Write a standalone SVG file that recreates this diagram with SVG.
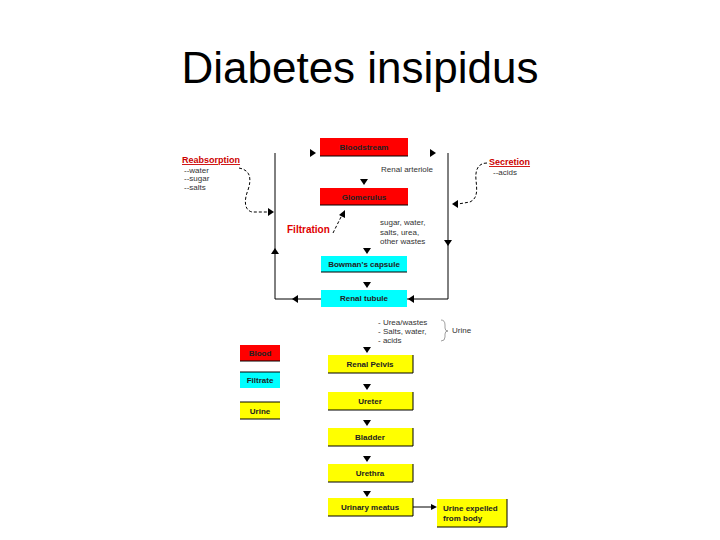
<svg xmlns="http://www.w3.org/2000/svg" width="720" height="540" viewBox="0 0 720 540">
<defs>
<style>
.t{font-family:"Liberation Sans",Arial,sans-serif;}
.bl{font-family:"Liberation Sans",Arial,sans-serif;font-size:8px;font-weight:bold;fill:#222;text-anchor:middle;}
.bls{font-family:"Liberation Sans",Arial,sans-serif;font-size:8px;font-weight:bold;fill:#222;text-anchor:start;}
.sm{font-family:"Liberation Sans",Arial,sans-serif;font-size:8px;fill:#333;}
.red{fill:#ff0000;}
.cy{fill:#00ffff;}
.ye{fill:#ffff00;}
.ln{stroke:#000;stroke-width:1;fill:none;}
.dash{stroke:#000;stroke-width:1;fill:none;stroke-dasharray:3,2;}
.tri{fill:#000;}
</style>
</defs>
<rect width="720" height="540" fill="#fff"/>
<text class="t" x="360" y="83" font-size="44" text-anchor="middle" fill="#000">Diabetes insipidus</text>

<g id="connectors">
<line class="ln" x1="275" y1="153" x2="275" y2="299"/>
<line class="ln" x1="448" y1="153" x2="448" y2="299"/>
<line class="ln" x1="275" y1="299" x2="321" y2="299"/>
<line class="ln" x1="448" y1="299" x2="407" y2="299"/>
<path class="tri" d="M310,149 L316,153 L310,157 Z"/>
<path class="tri" d="M430,149 L436,153 L430,157 Z"/>
<path class="tri" d="M360,179 L368,179 L364,185 Z"/>
<path class="tri" d="M363,248 L371,248 L367,254 Z"/>
<path class="tri" d="M363,282 L371,282 L367,288 Z"/>
<path class="tri" d="M363,347 L371,347 L367,353 Z"/>
<path class="tri" d="M363,384 L371,384 L367,390 Z"/>
<path class="tri" d="M363,420 L371,420 L367,426 Z"/>
<path class="tri" d="M363,456 L371,456 L367,462 Z"/>
<path class="tri" d="M363,491 L371,491 L367,497 Z"/>
<path class="tri" d="M271,254 L279,254 L275,248 Z"/>
<path class="tri" d="M444,240 L452,240 L448,246 Z"/>
<path class="tri" d="M298,295 L298,303 L292,299 Z"/>
<path class="tri" d="M414,295 L414,303 L408,299 Z"/>
<path class="dash" d="M239,168 C250,170 252,178 248,190 C244,200 244,210 252,212 L268,212"/>
<path class="tri" d="M268,208 L274,212 L268,216 Z"/>
<path class="dash" d="M487,163 C478,163 475,170 476,180 C477,190 478,198 470,202 L458,204"/>
<path class="tri" d="M458,200 L452,204 L458,208 Z"/>
<line class="dash" x1="333" y1="233" x2="342" y2="215"/>
<path class="tri" d="M339,215 L345,210 L345,218 Z"/>
<line class="ln" x1="413" y1="507" x2="432" y2="507"/>
<path class="tri" d="M431,504 L437,507 L431,510 Z"/>
</g>

<g id="bloodstream">
<rect class="red" x="320" y="138" width="88" height="18"/>
<line class="ln" x1="320" y1="156" x2="408" y2="156"/>
<text class="bl" x="364" y="150">Bloodstream</text>
</g>
<g id="glomerulus">
<rect class="red" x="320" y="188" width="88" height="17"/>
<line class="ln" x1="320" y1="205" x2="408" y2="205"/>
<text class="bl" x="364" y="200">Glomerulus</text>
</g>
<g id="bowmans">
<rect class="cy" x="321" y="256" width="86" height="16"/>
<line class="ln" x1="321" y1="272" x2="407" y2="272"/>
<text class="bl" x="364" y="267">Bowman's capsule</text>
</g>
<g id="tubule">
<rect class="cy" x="321" y="290" width="86" height="17"/>
<text class="bl" x="364" y="301">Renal tubule</text>
</g>

<g id="renal-arteriole"><text class="sm" x="381" y="172">Renal arteriole</text></g>
<g id="filtrate-contents">
<text class="sm" x="380" y="225">sugar, water,</text>
<text class="sm" x="380" y="235">salts, urea,</text>
<text class="sm" x="380" y="244">other wastes</text>
</g>
<g id="filtration"><text class="t" x="287" y="233" font-size="10" font-weight="bold" fill="#e00000">Filtration</text></g>
<g id="reabsorption">
<text class="t" x="182" y="163" font-size="9" font-weight="bold" fill="#cc0000" text-decoration="underline">Reabsorption</text>
<text class="sm" x="184" y="173">--water</text>
<text class="sm" x="184" y="181">--sugar</text>
<text class="sm" x="184" y="190">--salts</text>
</g>
<g id="secretion">
<text class="t" x="489" y="165" font-size="9" font-weight="bold" fill="#cc0000" text-decoration="underline">Secretion</text>
<text class="sm" x="493" y="175">--acids</text>
</g>
<g id="urine-contents">
<text class="sm" x="378" y="325">- Urea/wastes</text>
<text class="sm" x="378" y="334">- Salts, water,</text>
<text class="sm" x="378" y="343">- acids</text>
<path d="M441,320 Q445,320 445,325 L445,328 Q445,331 448,331 Q445,331 445,334 L445,337 Q445,341 441,341" stroke="#888" stroke-width="0.8" fill="none"/>
<text class="sm" x="452" y="333">Urine</text>
</g>

<g id="legend-blood">
<rect class="red" x="240" y="345" width="40" height="16"/>
<line class="ln" x1="240" y1="361" x2="280" y2="361"/>
<text class="bl" x="260" y="356">Blood</text>
</g>
<g id="legend-filtrate">
<rect class="cy" x="240" y="372" width="40" height="16"/>
<line class="ln" x1="240" y1="372" x2="280" y2="372"/>
<text class="bl" x="260" y="383">Filtrate</text>
</g>
<g id="legend-urine">
<rect class="ye" x="240" y="402" width="40" height="17"/>
<line class="ln" x1="240" y1="402" x2="280" y2="402"/>
<line class="ln" x1="240" y1="419" x2="280" y2="419"/>
<text class="bl" x="260" y="414">Urine</text>
</g>

<g id="renal-pelvis">
<rect class="ye" x="328" y="355" width="85" height="18"/>
<path class="ln" d="M328,373 L413,373 L413,355"/>
<text class="bl" x="370" y="367">Renal Pelvis</text>
</g>
<g id="ureter">
<rect class="ye" x="328" y="392" width="85" height="18"/>
<path class="ln" d="M328,410 L413,410 L413,392"/>
<text class="bl" x="370" y="404">Ureter</text>
</g>
<g id="bladder">
<rect class="ye" x="328" y="428" width="85" height="18"/>
<path class="ln" d="M328,446 L413,446 L413,428"/>
<text class="bl" x="370" y="440">Bladder</text>
</g>
<g id="urethra">
<rect class="ye" x="328" y="464" width="85" height="18"/>
<path class="ln" d="M328,482 L413,482 L413,464"/>
<text class="bl" x="370" y="476">Urethra</text>
</g>
<g id="meatus">
<rect class="ye" x="328" y="498" width="85" height="18"/>
<path class="ln" d="M328,516 L413,516 L413,498"/>
<text class="bl" x="370" y="510">Urinary meatus</text>
</g>
<g id="expelled">
<rect class="ye" x="437" y="499" width="70" height="28"/>
<path class="ln" d="M437,527 L507,527 L507,499"/>
<text class="bls" x="443" y="511">Urine expelled</text>
<text class="bls" x="443" y="521">from body</text>
</g>
</svg>
